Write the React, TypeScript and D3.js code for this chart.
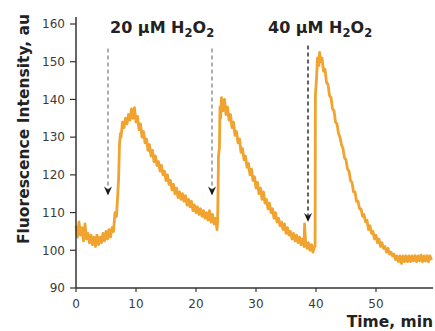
import React from "react";
import * as d3 from "d3";

// Fluorescence trace, [time (min), intensity (au)]
const trace: [number, number][] = [
  [0, 106.5], [0.25, 103.5], [0.5, 107.5], [0.75, 104], [1, 106], [1.25, 102.5], [1.5, 107], [1.75, 103],
  [2, 104.5], [2.25, 102], [2.5, 104], [2.75, 101.5], [3, 103.5], [3.25, 101], [3.5, 104], [3.75, 101.5],
  [4, 103.5], [4.25, 102], [4.5, 104.5], [4.75, 102.5], [5, 105], [5.25, 103], [5.5, 105.5], [5.75, 103.5],
  [6, 106], [6.25, 105], [6.5, 110], [6.75, 109], [7, 116], [7.1, 119], [7.25, 128], [7.4, 131],
  [7.5, 130], [7.75, 134], [8, 132.5], [8.25, 135], [8.5, 133.5], [8.75, 136], [9, 134.5], [9.25, 137.5],
  [9.5, 135], [9.75, 137.8], [10, 134], [10.25, 135.5], [10.5, 132], [10.75, 133.5], [11, 130], [11.25, 131.5],
  [11.5, 128.5], [11.75, 129.5], [12, 126.5], [12.25, 128], [12.5, 125], [12.75, 126.5], [13, 123.5], [13.25, 125],
  [13.5, 122.5], [13.75, 123.5], [14, 121], [14.25, 122.5], [14.5, 120], [14.75, 121], [15, 118.5], [15.25, 120],
  [15.5, 117.5], [15.75, 118.5], [16, 116], [16.25, 117.5], [16.5, 115], [16.75, 116.5], [17, 114], [17.25, 115.5],
  [17.5, 113.5], [17.75, 115], [18, 113], [18.25, 114.5], [18.5, 112], [18.75, 113.5], [19, 111.5], [19.25, 113],
  [19.5, 110.5], [19.75, 112], [20, 110], [20.25, 111.5], [20.5, 109.5], [20.75, 111], [21, 109], [21.25, 110.5],
  [21.5, 108.5], [21.75, 110], [22, 108], [22.25, 110.5], [22.5, 107.5], [22.75, 109.5], [23, 107], [23.25, 108.5],
  [23.5, 105.5], [23.6, 107.5], [23.7, 118], [23.75, 125], [23.9, 127], [24, 138], [24.1, 135], [24.25, 140.5],
  [24.5, 137], [24.75, 140], [25, 136], [25.25, 138], [25.5, 134.5], [25.75, 136], [26, 132.5], [26.25, 134],
  [26.5, 130.5], [26.75, 131.5], [27, 128.5], [27.25, 129.5], [27.5, 126], [27.75, 127], [28, 124], [28.25, 125],
  [28.5, 122], [28.75, 123], [29, 120], [29.25, 121.5], [29.5, 118.5], [29.75, 119.5], [30, 116.5], [30.25, 118],
  [30.5, 115], [30.75, 116.5], [31, 113.5], [31.25, 115.5], [31.5, 112.5], [31.75, 113.5], [32, 111], [32.25, 112.5],
  [32.5, 110], [32.75, 111], [33, 108.5], [33.25, 110], [33.5, 107.5], [33.75, 108.5], [34, 106.5], [34.25, 107.5],
  [34.5, 105.5], [34.75, 107], [35, 104.5], [35.25, 106], [35.5, 104], [35.75, 105], [36, 103], [36.25, 104.5],
  [36.5, 102.5], [36.75, 104], [37, 102], [37.25, 103.5], [37.5, 101.5], [37.75, 103], [38, 101], [38.1, 107],
  [38.25, 102.5], [38.5, 100.5], [38.75, 102], [39, 100], [39.25, 101.5], [39.5, 99.5], [39.75, 101], [39.85, 101],
  [39.9, 141], [40.1, 146], [40.25, 151], [40.5, 149], [40.6, 152.5], [40.75, 150], [41, 151], [41.25, 147.5],
  [41.5, 148], [41.75, 144.5], [42, 144], [42.25, 141], [42.5, 140.5], [42.75, 137.5], [43, 137], [43.25, 134],
  [43.5, 133.5], [43.75, 131], [44, 130], [44.25, 128], [44.5, 127], [44.75, 124.5], [45, 124], [45.25, 121.5],
  [45.5, 121], [45.75, 118.5], [46, 118], [46.25, 115.5], [46.5, 115.5], [46.75, 113], [47, 113], [47.25, 111],
  [47.5, 111], [47.75, 109], [48, 109.5], [48.25, 107.5], [48.5, 108], [48.75, 105.5], [49, 106.5], [49.25, 104.5],
  [49.5, 105], [49.75, 103], [50, 104], [50.25, 102], [50.5, 103], [50.75, 101], [51, 102], [51.25, 100.5],
  [51.5, 101], [51.75, 99.5], [52, 100.5], [52.25, 99], [52.5, 99.5], [52.75, 98.5], [53, 99], [53.25, 97.5],
  [53.5, 98.5], [53.75, 97], [54, 98.5], [54.25, 96.5], [54.5, 98.5], [54.75, 97], [55, 98.5], [55.25, 97],
  [55.5, 98.5], [55.75, 97], [56, 98.5], [56.25, 97.2], [56.5, 98.6], [56.75, 97], [57, 98.5], [57.25, 97.2],
  [57.5, 98.7], [57.75, 97], [58, 98.5], [58.25, 97.1], [58.5, 98.6], [58.75, 97], [59, 98.5], [59.25, 97.4],
];

const xTicks = [0, 10, 20, 30, 40, 50];
const yTicks = [90, 100, 110, 120, 130, 140, 150, 160];

// Additions of H2O2: time (min), dashed-line top and arrow tip (au)
const additionTimes = [5.33, 22.67, 38.67];
const additionDark = [false, false, true];
const arrowTipValues = [114.5, 114.5, 107.5];
const lineTopValues = [153.5, 153.5, 154.3];
const doseLabels = ["20 µM", "40 µM"];
const doseLabelTimes = [5.67, 32];

const W = 435;
const H = 331;

export default function App() {
  const x = d3.scaleLinear().domain([0, 59.5]).range([76, 433]);
  const y = d3.scaleLinear().domain([90, 160]).range([288, 24]);
  const line = d3
    .line<[number, number]>()
    .x((d) => x(d[0]))
    .y((d) => y(d[1]));

  const axisColor = "#333";
  const tickFont = "'DejaVu Sans', sans-serif";
  const boldFont = "'DejaVu Sans', sans-serif";

  return (
    <svg
      width={W}
      height={H}
      style={{ position: "absolute", left: 0, top: 0, background: "#fff" }}
    >
      {/* trace */}
      <path
        d={line(trace) || ""}
        fill="none"
        stroke="#f0a32f"
        strokeWidth={2.8}
        strokeLinejoin="round"
      />

      {/* axes */}
      <line x1={x(0)} x2={x(0)} y1={17} y2={y(90)} stroke={axisColor} strokeWidth={1.5} />
      <line x1={x(0)} x2={433} y1={y(90)} y2={y(90)} stroke={axisColor} strokeWidth={1.5} />
      {yTicks.map((t) => (
        <g key={"y" + t}>
          <line x1={x(0) - 6} x2={x(0)} y1={y(t)} y2={y(t)} stroke={axisColor} strokeWidth={1.2} />
          <text
            x={x(0) - 11}
            y={y(t)}
            dy="0.36em"
            textAnchor="end"
            fontFamily={tickFont}
            fontSize={12}
            fill="#3a3a3a"
          >
            {t}
          </text>
        </g>
      ))}
      {xTicks.map((t) => (
        <g key={"x" + t}>
          <line x1={x(t)} x2={x(t)} y1={y(90)} y2={y(90) + 4} stroke={axisColor} strokeWidth={1.2} />
          <text
            x={x(t)}
            y={y(90) + 20}
            textAnchor="middle"
            fontFamily={tickFont}
            fontSize={12}
            fill="#3a3a3a"
          >
            {t}
          </text>
        </g>
      ))}

      {/* axis titles */}
      <text
        transform={`translate(29, ${129}) rotate(-90)`}
        textAnchor="middle"
        fontFamily={boldFont}
        fontWeight="bold"
        fontSize={15.5}
        fill="#222"
      >
        Fluorescence Intensity, au
      </text>
      <text
        x={433}
        y={327}
        textAnchor="end"
        fontFamily={boldFont}
        fontWeight="bold"
        fontSize={15.5}
        fill="#222"
      >
        Time, min
      </text>

      {/* additions: dashed lines with arrowheads */}
      {additionTimes.map((t, i) => {
        const cx = x(t);
        const tip = y(arrowTipValues[i]);
        const top = y(lineTopValues[i]);
        const col = additionDark[i] ? "#222" : "#8c8c8c";
        return (
          <g key={"a" + i}>
            <line
              x1={cx}
              x2={cx}
              y1={top}
              y2={tip - 6}
              stroke={col}
              strokeWidth={1.4}
              strokeDasharray="4,3"
            />
            <path
              d={`M${cx},${tip} L${cx - 4},${tip - 9} L${cx},${tip - 6} L${cx + 4},${tip - 9} Z`}
              fill="#1a1a1a"
            />
          </g>
        );
      })}

      {/* dose labels */}
      {doseLabels.map((lab, i) => (
        <text
          key={"d" + i}
          x={x(doseLabelTimes[i])}
          y={33}
          fontFamily={boldFont}
          fontWeight="bold"
          fontSize={16}
          fill="#222"
        >
          {lab + " H"}
          <tspan fontSize={11.5} dy={4}>2</tspan>
          <tspan dy={-4}>O</tspan>
          <tspan fontSize={11.5} dy={4}>2</tspan>
        </text>
      ))}
    </svg>
  );
}
